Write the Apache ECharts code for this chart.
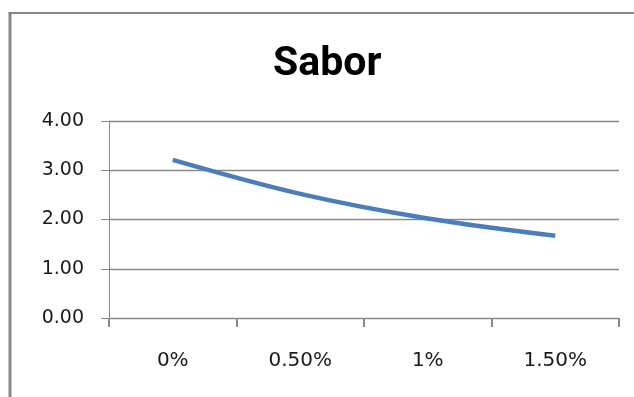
<!DOCTYPE html>
<html>
<head>
<meta charset="utf-8">
<script src="https://cdn.jsdelivr.net/npm/echarts@6/dist/echarts.min.js"></script>
<style>
  html, body { margin: 0; padding: 0; background: #fff; }
  #chart { width: 634px; height: 397px; }
</style>
</head>
<body>
<div id="chart"></div>
<script>
// Sabor score by concentration
const categories = ['0%', '0.50%', '1%', '1.50%'];
const saborValues = [3.21, 2.52, 2.02, 1.67];
const yTicks = [0, 1, 2, 3, 4];

const chart = echarts.init(document.getElementById('chart'), null, { renderer: 'canvas' });

const frameColor = '#878787';
const gridColor = '#8a8a8a';

chart.setOption({
  animation: false,
  backgroundColor: '#ffffff',
  title: {
    text: 'Sabor',
    left: 268,
    top: 39,
    textStyle: {
      fontFamily: 'Roboto',
      fontWeight: 'bold',
      fontSize: 41,
      color: '#000000'
    }
  },
  graphic: [
    { type: 'line', shape: { x1: 10, y1: 12, x2: 10, y2: 397 }, style: { stroke: frameColor, lineWidth: 3 } },
    { type: 'line', shape: { x1: 8.5, y1: 13, x2: 634, y2: 13 }, style: { stroke: frameColor, lineWidth: 2 } }
  ],
  grid: { left: 109, top: 121, width: 510, height: 197, containLabel: false },
  xAxis: {
    type: 'category',
    data: categories,
    boundaryGap: true,
    axisLine: { show: true, lineStyle: { color: gridColor, width: 1 } },
    axisTick: { show: true, length: 9, alignWithLabel: false, lineStyle: { color: gridColor, width: 2 } },
    axisLabel: {
      margin: 33,
      fontFamily: 'DejaVu Sans',
      fontSize: 20,
      color: '#1a1a1a'
    },
    splitLine: { show: false }
  },
  yAxis: {
    type: 'value',
    min: yTicks[0],
    max: yTicks[yTicks.length - 1],
    interval: 1,
    axisLine: { show: true, lineStyle: { color: gridColor, width: 1 } },
    axisTick: { show: true, inside: false, length: 8, lineStyle: { color: gridColor, width: 1 } },
    axisLabel: {
      margin: 25,
      fontFamily: 'DejaVu Sans',
      fontSize: 19,
      color: '#1a1a1a',
      formatter: v => v.toFixed(2)
    },
    splitLine: { show: true, lineStyle: { color: gridColor, width: 1.3 } }
  },
  series: [{
    name: 'Sabor',
    type: 'line',
    data: saborValues,
    smooth: 0.35,
    showSymbol: false,
    symbol: 'none',
    lineStyle: { color: '#4a7ebb', width: 4.5, cap: 'butt' }
  }]
});
</script>
</body>
</html>
